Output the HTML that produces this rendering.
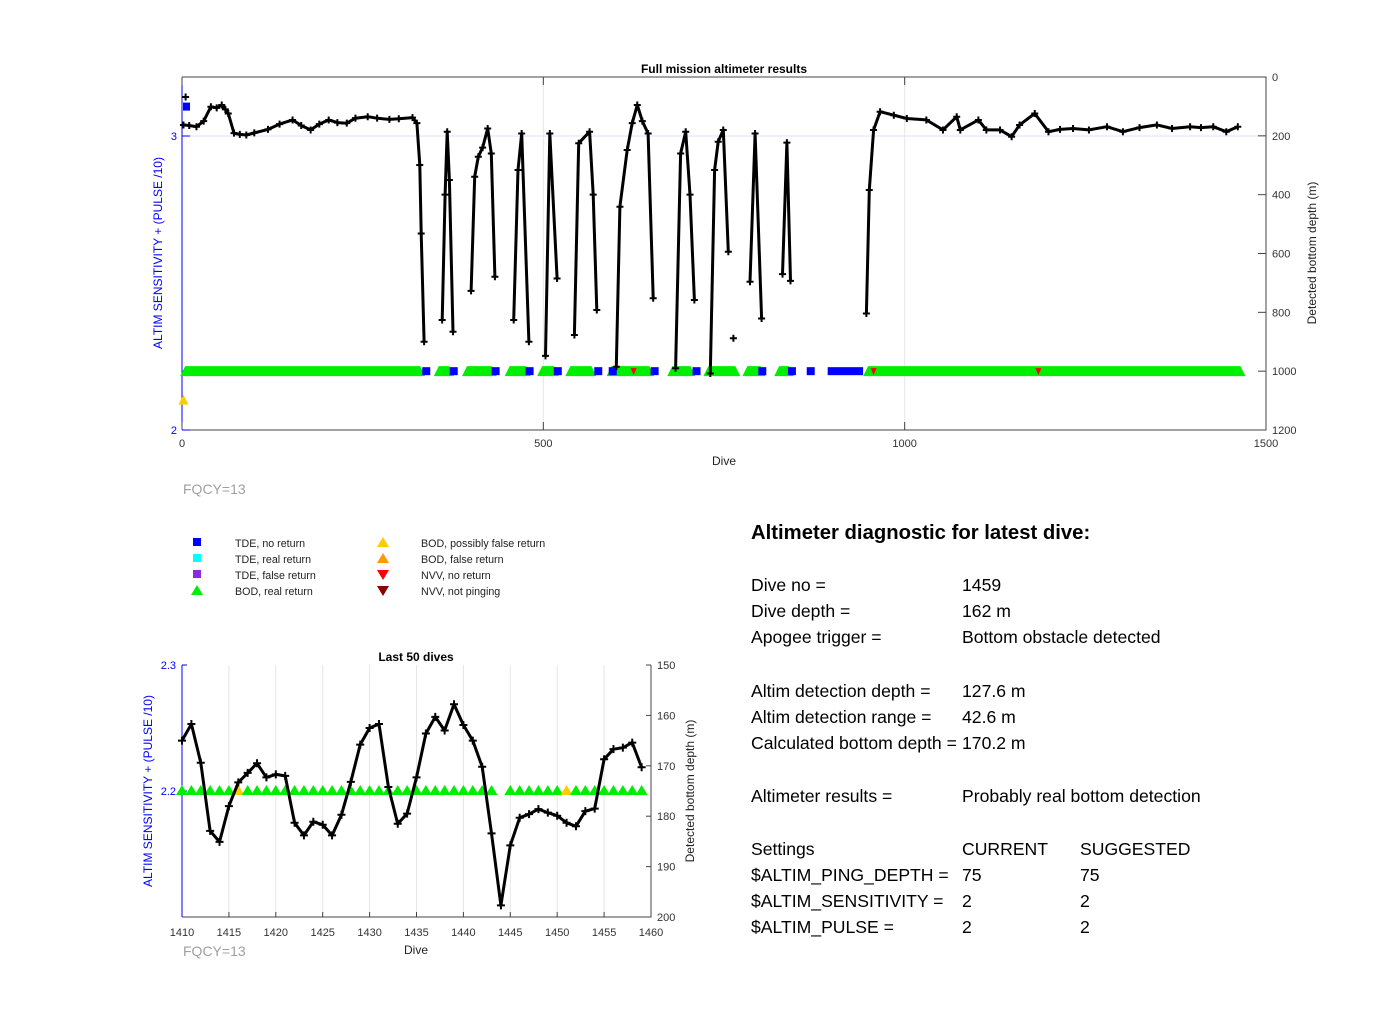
<!DOCTYPE html>
<html><head><meta charset="utf-8"><style>
html,body{margin:0;padding:0;background:#fff;}
svg{display:block;font-family:"Liberation Sans",Arial,sans-serif;}
</style></head><body>
<svg id="s" width="1400" height="1032" viewBox="0 0 1400 1032" xmlns="http://www.w3.org/2000/svg">
<rect width="1400" height="1032" fill="#fff"/>
<g id="top"></g>
<g id="bot"></g>
<text x="183" y="494" font-size="14" fill="#a0a0a0">FQCY=13</text>
<text x="183" y="956" font-size="14" fill="#a0a0a0">FQCY=13</text>
<g font-size="10.7" fill="#222">
 <rect x="193" y="538" width="8" height="8" fill="#0000ff"/><text x="235" y="547">TDE, no return</text>
 <rect x="193" y="554" width="8" height="8" fill="#00ffff"/><text x="235" y="563">TDE, real return</text>
 <rect x="193" y="570" width="8" height="8" fill="#8a2be2"/><text x="235" y="579">TDE, false return</text>
 <polygon points="197,585 191,595 203,595" fill="#00ee00"/><text x="235" y="595">BOD, real return</text>
 <polygon points="383,537 377,547 389,547" fill="#ffcc00"/><text x="421" y="547">BOD, possibly false return</text>
 <polygon points="383,553 377,563 389,563" fill="#ff9900"/><text x="421" y="563">BOD, false return</text>
 <polygon points="383,580 377,570 389,570" fill="#ff0000"/><text x="421" y="579">NVV, no return</text>
 <polygon points="383,596 377,586 389,586" fill="#8b0000"/><text x="421" y="595">NVV, not pinging</text>
</g>
<g font-size="17.6" fill="#000">
 <text x="751" y="539" font-size="20.3" font-weight="bold">Altimeter diagnostic for latest dive:</text>
 <text x="751" y="591">Dive no =</text><text x="962" y="591">1459</text>
 <text x="751" y="617">Dive depth =</text><text x="962" y="617">162 m</text>
 <text x="751" y="643">Apogee trigger =</text><text x="962" y="643">Bottom obstacle detected</text>
 <text x="751" y="697">Altim detection depth =</text><text x="962" y="697">127.6 m</text>
 <text x="751" y="723">Altim detection range =</text><text x="962" y="723">42.6 m</text>
 <text x="751" y="749">Calculated bottom depth =</text><text x="962" y="749">170.2 m</text>
 <text x="751" y="802">Altimeter results =</text><text x="962" y="802">Probably real bottom detection</text>
 <text x="751" y="855">Settings</text><text x="962" y="855">CURRENT</text><text x="1080" y="855">SUGGESTED</text>
 <text x="751" y="881">$ALTIM_PING_DEPTH =</text><text x="962" y="881">75</text><text x="1080" y="881">75</text>
 <text x="751" y="907">$ALTIM_SENSITIVITY =</text><text x="962" y="907">2</text><text x="1080" y="907">2</text>
 <text x="751" y="933">$ALTIM_PULSE =</text><text x="962" y="933">2</text><text x="1080" y="933">2</text>
</g>
</svg>
<script>
// ---- Full mission data (null = gap in series) ----
const topDives = [2,10,20,30,40,48,55,60,64,72,80,89,100,119,135,153,165,178,190,203,215,228,240,257,270,287,300,319,325,329,331,335,336,
 360,364,367,370,375,376, 400,405,410,416,423,428,433,434, 459,465,470,480,481, 503,509,519,520,
 543,549,564,569,574,575, 601,606,616,623,630,637,645,652,653, 683,690,697,703,709,710, 731,737,742,749,756,757,
 786,793,802,803, 831,837,842,843, 947,951,957,966,985,1003,1030,1053,1072,1077,1102,1113,1132,1148,1159,1180,1199,1215,1233,1255,1280,1302,1325,1349,1370,1395,1410,1427,1445,1461];
const topDepths = [163,165,169,150,101,105,95,110,124,191,195,197,190,178,160,146,165,180,160,146,155,157,140,135,140,144,142,138,157,299,532,900,null,
 826,400,186,350,866,null, 727,339,271,240,175,260,679,null, 826,316,192,900,null, 948,192,685,null,
 877,225,186,400,792,null, 985,441,248,157,95,150,192,752,null, 990,260,186,400,758,null, 1008,316,220,180,594,null,
 696,192,821,null, 670,223,693,null, 804,384,180,118,130,141,146,180,135,180,146,180,180,203,163,124,186,178,175,180,169,186,172,163,175,169,172,169,186,169];
const strayDives = [5, 763];
const strayDepths = [68, 888];
const bodRealRanges = [[3,331],[354,371],[393,430],[452,477],[497,516],[536,568],[593,648],[677,705],[727,767],[781,802],[825,841],[948,1466]];
const tdeNoReturnDives = [338,376,434,481,520,576,596,654,712,803,844,870];
const tdeNoReturnBar = [899,948];
const nvvNoReturnDives = [625,957,1185];
const topXTicks = [0,500,1000,1500];
const topDepthTicks = [0,200,400,600,800,1000,1200];
const topLeftTicks = [2,3];

// ---- Last 50 dives data ----
const lastDives = [1410,1411,1412,1413,1414,1415,1416,1417,1418,1419,1420,1421,1422,1423,1424,1425,1426,1427,1428,1429,1430,1431,1432,1433,1434,1435,1436,1437,1438,1439,1440,1441,1442,1443,1444,1445,1446,1447,1448,1449,1450,1451,1452,1453,1454,1455,1456,1457,1458,1459];
const lastDepths = [165.0,161.7,169.4,182.9,185.1,178.0,173.3,171.4,169.5,172.3,171.7,172.0,181.3,183.8,181.1,181.7,183.8,179.7,173.2,165.8,162.5,161.7,174.2,181.5,179.5,172.3,163.6,160.3,163.0,157.8,161.9,165.0,170.2,183.4,197.7,185.8,180.3,179.6,178.6,179.3,179.9,181.3,182.0,179.0,178.5,168.7,166.7,166.4,165.4,170.3];
const lastBodFalse = [1416,1451];
const lastMissing = [1444];
const lastXTicks = [1410,1415,1420,1425,1430,1435,1440,1445,1450,1455,1460];
const lastDepthTicks = [150,160,170,180,190,200];
const lastLeftTicks = [2.2,2.3];

const NS='http://www.w3.org/2000/svg';
function mk(parent,tag,attrs,txt){const e=document.createElementNS(NS,tag);for(const k in attrs)e.setAttribute(k,attrs[k]);if(txt!==undefined)e.textContent=txt;parent.appendChild(e);return e;}
function plus(g,x,y,s){mk(g,'path',{d:`M${x-s},${y}H${x+s}M${x},${y-s}V${y+s}`,stroke:'#000','stroke-width':2});}

// ===== TOP CHART =====
(function(){
const g=document.getElementById('top');
const X0=182,X1=1266,Y0=77,Y1=430;
const xs=d=>X0+(d-0)/1500*(X1-X0);
const ys=m=>Y0+m/1200*(Y1-Y0);
const yl=v=>Y1-(v-2)*(Y1-136);
topXTicks.slice(1,3).forEach(t=>{mk(g,'line',{x1:xs(t),x2:xs(t),y1:Y0,y2:Y1,stroke:'#e6e6e6'});});
mk(g,'line',{x1:X0,x2:X1,y1:yl(3),y2:yl(3),stroke:'#e0e0f8'});
const box=mk(g,'path',{d:`M${X0},${Y0}H${X1}V${Y1}H${X0}`,fill:'none',stroke:'#444','stroke-width':1});


mk(g,'line',{x1:X0,x2:X0,y1:Y0,y2:Y1,stroke:'#0000ff'});
topXTicks.forEach(t=>{const x=xs(t);mk(g,'line',{x1:x,x2:x,y1:Y1,y2:Y1-8,stroke:'#444'});mk(g,'line',{x1:x,x2:x,y1:Y0,y2:Y0+8,stroke:'#444'});
 const tx=mk(g,'text',{x:x,y:Y1+17,'font-size':11,'text-anchor':'middle',fill:'#333'},String(t));
 
 });
topDepthTicks.forEach(t=>{const y=ys(t);mk(g,'line',{x1:X1,x2:X1-8,y1:y,y2:y,stroke:'#444'});
 const tx=mk(g,'text',{x:X1+6,y:y+4,'font-size':11,fill:'#333'},String(t));
 
 });
topLeftTicks.forEach(t=>{const y=yl(t);mk(g,'line',{x1:X0,x2:X0+8,y1:y,y2:y,stroke:'#0000ff'});
 const tx=mk(g,'text',{x:X0-5,y:y+4,'font-size':11,'text-anchor':'end',fill:'#0000ff'},String(t));
 
 });
const t1=mk(g,'text',{x:724,y:73,'font-size':12,'font-weight':'bold','text-anchor':'middle'},'Full mission altimeter results');


const t2=mk(g,'text',{x:724,y:465,'font-size':12,'text-anchor':'middle',fill:'#222'},'Dive');


const t3=mk(g,'text',{x:0,y:0,'font-size':12,'text-anchor':'middle',fill:'#0000ff',transform:`translate(162,253) rotate(-90)`},'ALTIM SENSITIVITY + (PULSE /10)');


const t4=mk(g,'text',{x:0,y:0,'font-size':12,'text-anchor':'middle',fill:'#222',transform:`translate(1316,253) rotate(-90)`},'Detected bottom depth (m)');


const ry=ys(1000);
bodRealRanges.forEach(r=>{const a=xs(r[0]),b=xs(r[1]);
 const p=mk(g,'polygon',{points:`${a-4},${ry+5} ${a+1},${ry-5} ${b-1},${ry-5} ${b+4},${ry+5}`,fill:'#00ee00'});
 
 });
tdeNoReturnDives.forEach(d=>{const r=mk(g,'rect',{x:xs(d)-4,y:ry-4,width:8,height:8,fill:'#0000ff'});
 
 });
const bb=mk(g,'rect',{x:xs(tdeNoReturnBar[0])-4,y:ry-4,width:xs(tdeNoReturnBar[1])-xs(tdeNoReturnBar[0]),height:8,fill:'#0000ff'});


nvvNoReturnDives.forEach(d=>{const x=xs(d);const p=mk(g,'polygon',{points:`${x-3},${ry-3} ${x+3},${ry-3} ${x},${ry+4}`,fill:'#ff0000'});
 
 });
const q=mk(g,'rect',{x:xs(0)+1,y:yl(3.1)-4,width:7,height:8,fill:'#0000ff'});


const yt=mk(g,'polygon',{points:`${xs(2)},${yl(2.1)-6} ${xs(2)-5},${yl(2.1)+4} ${xs(2)+5},${yl(2.1)+4}`,fill:'#ffcc00'});


let d='';let pen=false;
topDives.forEach((dv,i)=>{const v=topDepths[i];if(v===null){pen=false;return;}
 d+=(pen?'L':'M')+xs(dv).toFixed(1)+','+ys(v).toFixed(1);pen=true;});
const line=mk(g,'path',{d:d,fill:'none',stroke:'#000','stroke-width':3,'stroke-linejoin':'round'});


const mg=mk(g,'g',{});


topDives.forEach((dv,i)=>{if(topDepths[i]!==null)plus(mg,xs(dv),ys(topDepths[i]),3.5);});
strayDives.forEach((dv,i)=>plus(mg,xs(dv),ys(strayDepths[i]),3.5));
})();

// ===== BOTTOM CHART =====
(function(){
const g=document.getElementById('bot');
const X0=182,X1=651,Y0=665,Y1=917;
const xs=d=>X0+(d-1410)/50*(X1-X0);
const ys=m=>Y0+(m-150)/50*(Y1-Y0);
const yl=v=>Y0+(2.3-v)/0.1*126;
lastXTicks.forEach(t=>{const x=xs(t);
 if(t>1410&&t<1460)mk(g,'line',{x1:x,x2:x,y1:Y0,y2:Y1,stroke:'#e6e6e6'});
 mk(g,'line',{x1:x,x2:x,y1:Y1,y2:Y1-5,stroke:'#444'});
 const tx=mk(g,'text',{x:x,y:Y1+19,'font-size':11,'text-anchor':'middle',fill:'#333'},String(t));
 
 });
const box=mk(g,'path',{d:`M${X0},${Y1}H${X1}V${Y0}`,fill:'none',stroke:'#444'});


mk(g,'line',{x1:X0,x2:X0,y1:Y0,y2:Y1,stroke:'#0000ff'});
lastDepthTicks.forEach(t=>{const y=ys(t);mk(g,'line',{x1:X1,x2:X1-5,y1:y,y2:y,stroke:'#444'});
 const tx=mk(g,'text',{x:X1+6,y:y+4,'font-size':11,fill:'#333'},String(t));
 
 });
lastLeftTicks.forEach(t=>{const y=yl(t);mk(g,'line',{x1:X0,x2:X0+5,y1:y,y2:y,stroke:'#0000ff'});
 const tx=mk(g,'text',{x:X0-6,y:y+4,'font-size':11,'text-anchor':'end',fill:'#0000ff'},String(t));
 
 });
const t1=mk(g,'text',{x:416,y:661,'font-size':12,'font-weight':'bold','text-anchor':'middle'},'Last 50 dives');


const t2=mk(g,'text',{x:416,y:954,'font-size':12,'text-anchor':'middle',fill:'#222'},'Dive');


const t3=mk(g,'text',{x:0,y:0,'font-size':12,'text-anchor':'middle',fill:'#0000ff',transform:`translate(152,791) rotate(-90)`},'ALTIM SENSITIVITY + (PULSE /10)');


const t4=mk(g,'text',{x:0,y:0,'font-size':12,'text-anchor':'middle',fill:'#222',transform:`translate(694,791) rotate(-90)`},'Detected bottom depth (m)');


const ty=yl(2.2);
lastDives.forEach(d=>{if(lastMissing.includes(d))return;const x=xs(d);
 const c=lastBodFalse.includes(d)?'#ffcc00':'#00ee00';
 const p=mk(g,'polygon',{points:`${x},${ty-6} ${x-6},${ty+4} ${x+6},${ty+4}`,fill:c});
 
 });
const pts=lastDives.map((d,i)=>`${xs(d).toFixed(1)},${ys(lastDepths[i]).toFixed(1)}`).join(' ');
const line=mk(g,'polyline',{points:pts,fill:'none',stroke:'#000','stroke-width':3,'stroke-linejoin':'round'});


const mg=mk(g,'g',{});


lastDives.forEach((d,i)=>plus(mg,xs(d),ys(lastDepths[i]),4));
})();
</script>
</body></html>
